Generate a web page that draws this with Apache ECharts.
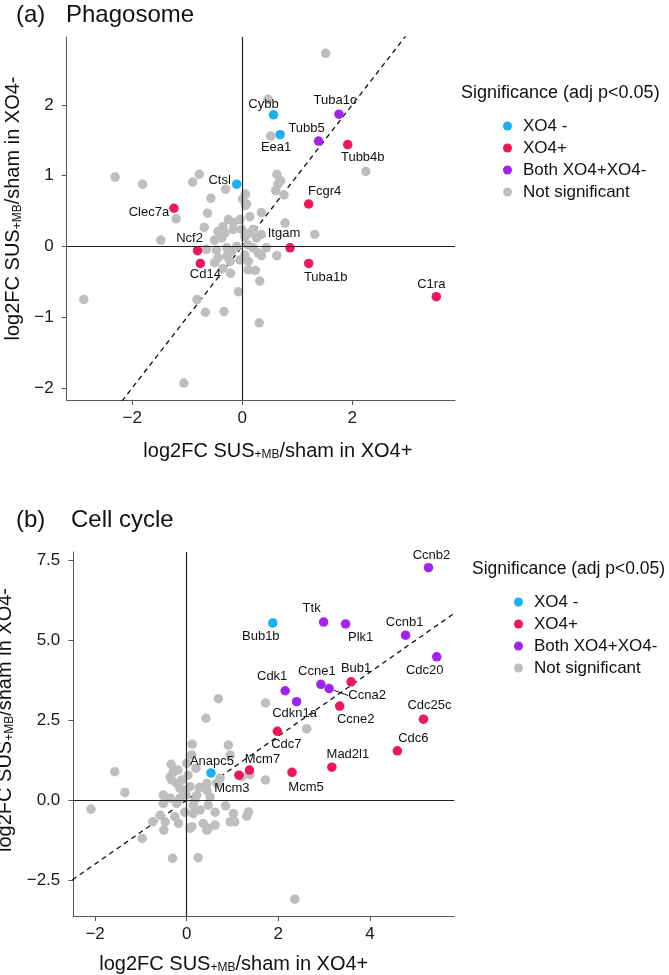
<!DOCTYPE html>
<html>
<head>
<meta charset="utf-8">
<script src="https://cdn.jsdelivr.net/npm/echarts@6/dist/echarts.min.js"></script>
<style>
  html, body { margin: 0; background: #fff; }
  #chart { width: 669px; height: 975px; }
</style>
</head>
<body>
<div id="chart"></div>
<script>
// ---- (a) Phagosome ----
const phagoBlueGenes = ['Cybb', 'Eea1', 'Ctsl'];
const phagoBlueX = [0.57, 0.69, -0.10];
const phagoBlueY = [1.86, 1.58, 0.88];

const phagoRedGenes = ['Tubb4b', 'Fcgr4', 'Clec7a', 'Ncf2', 'Cd14', 'Itgam', 'Tuba1b', 'C1ra'];
const phagoRedX = [1.92, 1.21, -1.24, -0.81, -0.76, 0.87, 1.21, 3.53];
const phagoRedY = [1.44, 0.60, 0.54, -0.06, -0.24, -0.02, -0.24, -0.71];

const phagoPurpleGenes = ['Tuba1c', 'Tubb5'];
const phagoPurpleX = [1.76, 1.39];
const phagoPurpleY = [1.87, 1.49];

const phagoGreyX = [1.52, 0.47, 0.52, 2.25, -2.31, -1.81, -0.78, -0.90, -0.30, -0.57, 0.63, 0.70, 0.65, 0.61, 0.76,
  0.06, 0.01, 0.08, 0.35, -0.63, -1.20, 0.06, 0.78, 1.32, -0.69, -1.48, -0.25, -0.16, -0.04, 0.14, -0.35, -0.01,
  -0.44, -0.31, -0.16, 0.05, 0.14, 0.20, 0.35, 0.26, -0.37, -0.50, -0.65, -0.47, -0.28, -0.19, -0.10, 0.11, 0.20,
  0.44, 0.29, 0.63, -0.44, -0.50, -0.28, -0.22, -0.04, 0.05, 0.11, -0.35, -0.21, 0.11, 0.32, -0.07, 0.24, -2.88,
  -0.82, -0.67, -0.33, 0.31, 0.35, -1.06];
const phagoGreyY = [2.73, 2.08, 1.56, 1.06, 0.98, 0.88, 1.02, 0.91, 0.81, 0.68, 1.02, 0.93, 0.88, 0.79, 0.73,
  0.74, 0.67, 0.60, 0.48, 0.47, 0.39, 0.58, 0.33, 0.17, 0.27, 0.09, 0.38, 0.34, 0.38, 0.42, 0.28, 0.24,
  0.21, 0.19, 0.24, 0.14, 0.19, 0.24, 0.17, 0.12, 0.12, 0.09, -0.04, -0.05, -0.02, -0.07, 0.00, 0.02, -0.02,
  -0.02, -0.09, -0.13, -0.16, -0.23, -0.14, -0.21, -0.19, -0.12, -0.21, -0.31, -0.38, -0.33, -0.49, -0.64, -0.34, -0.75,
  -0.75, -0.93, -0.92, -1.08, -0.13, -1.93];

// ---- (b) Cell cycle ----
const cellBlueGenes = ['Bub1b', 'Anapc5'];
const cellBlueX = [1.88, 0.53];
const cellBlueY = [5.54, 0.85];

const cellRedGenes = ['Bub1', 'Ccne2', 'Cdc25c', 'Cdc6', 'Cdc7', 'Mad2l1', 'Mcm5', 'Mcm7', 'Mcm3'];
const cellRedX = [3.59, 3.34, 5.17, 4.60, 1.98, 3.17, 2.30, 1.37, 1.14];
const cellRedY = [3.70, 2.94, 2.53, 1.54, 2.15, 1.03, 0.87, 0.94, 0.78];

const cellPurpleGenes = ['Ccnb2', 'Ttk', 'Plk1', 'Ccnb1', 'Cdc20', 'Cdk1', 'Cdkn1a', 'Ccne1', 'Ccna2'];
const cellPurpleX = [5.28, 2.99, 3.47, 4.78, 5.46, 2.15, 2.40, 2.93, 3.11];
const cellPurpleY = [7.27, 5.57, 5.51, 5.16, 4.48, 3.42, 3.08, 3.62, 3.49];

const cellGreyX = [0.69, 1.72, 0.42, 2.62, 0.12, 0.91, 0.11, 0.95, -0.34, 0.00, -1.57, -0.29, 1.38, 1.72, -1.35,
  -2.09, -0.36, -0.22, -0.11, 0.03, -0.15, -0.51, 0.07, 0.28, 0.44, 0.66, 0.22, 0.51, 1.20, -0.51, -0.22, 0.14,
  0.47, 0.85, 1.02, 1.31, -0.58, -0.26, 0.14, -0.74, -0.47, -0.18, 0.36, 0.95, 1.05, 0.11, -0.50, -0.97, 0.44,
  -0.31, 0.25, 2.36, 1.35, 0.62, 0.47, 0.07, -0.08, -0.01, -0.15, 0.18, -0.36, 0.29, -0.04, 0.62, -0.19, 0.20,
  0.44, 0.73, -0.33];
const cellGreyY = [3.17, 3.04, 2.56, 2.23, 1.75, 1.72, 1.41, 1.41, 1.12, 1.15, 0.89, 0.88, 0.80, 0.63, 0.24,
  -0.28, 0.73, 0.52, 0.63, 0.78, 0.37, 0.16, 0.42, 0.40, 0.31, 0.52, 0.16, 0.10, 0.73, -0.10, -0.10, -0.16,
  -0.16, -0.18, -0.42, -0.50, -0.47, -0.52, -0.42, -0.68, -0.68, -0.73, -0.73, -0.68, -0.68, -0.83, -0.94, -1.20, -0.94,
  -1.82, -1.80, -3.10, -0.37, -0.78, -0.88, -0.88, 0.31, 0.16, 0.06, 0.00, 0.06, -0.31, -0.38, -0.38, 0.94, 1.00,
  0.52, 0.68, 0.63];

// tick labels
const phagoXTicks = [-2, 0, 2];
const phagoYTicks = [-2, -1, 0, 1, 2];
const cellXTicks = [-2, 0, 2, 4];
const cellYTicks = [-2.5, 0, 2.5, 5, 7.5];

const groupNames = ['XO4 -', 'XO4+', 'Both XO4+XO4-', 'Not significant'];
const groupColors = ['#1AAFEF', '#EE1757', '#A023EE', '#BEBEBE'];

// label placement (pixel offset of label centre from point centre)
const labelOffset = {
  Cybb: [-10, -10], Eea1: [-4, 13], Tuba1c: [-4, -14], Tubb5: [-12, -13], Tubb4b: [15, 13],
  Ctsl: [-17, -4], Clec7a: [-25, 4], Fcgr4: [16, -13], Ncf2: [-8, -12], Cd14: [5, 11],
  Itgam: [-6, -14], Tuba1b: [17, 14], C1ra: [-5, -12],
  Ccnb2: [3, -12], Bub1b: [-12, 13], Ttk: [-12, -14], Plk1: [15, 13], Ccnb1: [-1, -13],
  Cdc20: [-12, 14], Cdk1: [-13, -14], Cdkn1a: [-2, 12], Ccne1: [-4, -13], Ccna2: [38, 7],
  Bub1: [5, -13], Ccne2: [16, 13], Cdc25c: [6, -14], Cdc6: [16, -12], Cdc7: [9, 13],
  Mad2l1: [16, -13], Mcm5: [14, 15], Mcm7: [13, -11], Mcm3: [-7, 13], Anapc5: [1, -12]
};
const withSegment = ['Ccna2'];

const FONT = 'Liberation Sans, Arial, Helvetica, sans-serif';
const minus = v => String(v).replace('-', '\u2212');

function points(genes, xs, ys) {
  return xs.map((x, i) => {
    const item = { value: [x, ys[i]] };
    if (genes) {
      item.name = genes[i];
      if (withSegment.indexOf(genes[i]) >= 0) {
        item.labelLine = { show: true, lineStyle: { color: '#111', width: 1 } };
      }
    }
    return item;
  });
}

function scatter(name, color, data, axis, labelled) {
  return {
    name: name,
    type: 'scatter',
    xAxisIndex: axis,
    yAxisIndex: axis,
    symbolSize: 9.5,
    z: 3,
    itemStyle: { color: color, opacity: 1 },
    label: {
      show: labelled,
      position: 'inside',
      formatter: '{b}',
      fontFamily: FONT,
      fontSize: 13,
      color: '#111'
    },
    labelLine: { show: false },
    labelLayout: labelled ? function (p) {
      const o = labelOffset[p.text] || [0, -12];
      return { dx: o[0], dy: o[1] };
    } : null,
    emphasis: { disabled: true },
    data: data
  };
}

function refLines(axis, lo, hi) {
  return {
    type: 'line',
    xAxisIndex: axis,
    yAxisIndex: axis,
    z: 1,
    silent: true,
    symbol: 'none',
    clip: true,
    lineStyle: { color: '#111', width: 1.3, type: [5, 4] },
    data: [[lo, lo], [hi, hi]],
    markLine: {
      silent: true,
      symbol: ['none', 'none'],
      label: { show: false },
      lineStyle: { color: '#222', width: 1.2, type: 'solid' },
      data: [{ xAxis: 0 }, { yAxis: 0 }]
    }
  };
}

function axisTitle(main, tail) {
  return '{a|' + main + '}{s|+MB}{a|' + tail + '}';
}
const titleRich = {
  a: { fontFamily: FONT, fontSize: 20, color: '#111' },
  s: { fontFamily: FONT, fontSize: 12, color: '#111', verticalAlign: 'bottom' }
};

function xAxis(grid, min, max, ticks, gap, pad) {
  return {
    gridIndex: grid, type: 'value', min: min, max: max,
    splitLine: { show: false },
    axisLine: { onZero: false, lineStyle: { color: '#555', width: 1 } },
    axisTick: { customValues: ticks, length: 5, lineStyle: { color: '#555' } },
    axisLabel: { customValues: ticks, formatter: minus, fontFamily: FONT, fontSize: 17, color: '#1a1a1a', margin: 10 },
    name: axisTitle('log2FC SUS', '/sham in XO4+'),
    nameLocation: 'middle', nameGap: gap,
    nameTextStyle: { rich: titleRich, padding: pad }
  };
}

function yAxis(grid, min, max, ticks, fmt, gap, pad) {
  return {
    gridIndex: grid, type: 'value', min: min, max: max,
    splitLine: { show: false },
    axisLine: { onZero: false, lineStyle: { color: '#555', width: 1 } },
    axisTick: { customValues: ticks, length: 5, lineStyle: { color: '#555' } },
    axisLabel: { customValues: ticks, formatter: fmt, fontFamily: FONT, fontSize: 17, color: '#1a1a1a', margin: 13 },
    name: axisTitle('log2FC SUS', '/sham in XO4-'),
    nameLocation: 'middle', nameRotate: 90, nameGap: gap,
    nameTextStyle: { rich: titleRich, padding: pad }
  };
}

function legend(left, top) {
  return {
    orient: 'vertical', left: left, top: top,
    icon: 'circle', itemWidth: 9, itemHeight: 9, itemGap: 4,
    data: groupNames,
    textStyle: { fontFamily: FONT, fontSize: 17, color: '#111', lineHeight: 18, padding: [0, 0, 0, 6] }
  };
}

function heading(text, left, top, size) {
  return { text: text, left: left, top: top, padding: 0,
    textStyle: { fontFamily: FONT, fontSize: size, fontWeight: 'normal', color: '#111', lineHeight: size + 4 } };
}

const chart = echarts.init(document.getElementById('chart'));
chart.setOption({
  backgroundColor: '#fff',
  animation: false,
  title: [
    heading('(a)', 16, 1, 24),
    heading('Phagosome', 66, 1, 24),
    heading('Significance (adj p<0.05)', 461, 82, 18),
    heading('(b)', 16, 506, 24),
    heading('Cell cycle', 71, 506, 24),
    heading('Significance (adj p<0.05)', 472, 558, 17.5)
  ],
  legend: [legend(498, 112), legend(509, 588)],
  grid: [
    { left: 66.7, top: 37, width: 388.3, height: 363, outerBoundsMode: 'none', containLabel: false },
    { left: 73.3, top: 552, width: 381, height: 364, outerBoundsMode: 'none', containLabel: false }
  ],
  xAxis: [
    xAxis(0, -3.19, 3.87, phagoXTicks, 41, [0, 0, 0, 34]),
    xAxis(1, -2.476, 5.843, cellXTicks, 38, [0, 60, 0, 0])
  ],
  yAxis: [
    yAxis(0, -2.17, 2.96, phagoYTicks, minus, 42, [0, 0, 0, 20]),
    yAxis(1, -3.625, 7.76, cellYTicks, v => v.toFixed(1).replace('-', '\u2212'), 46, [0, 0, 0, 28])
  ],
  series: [
    refLines(0, -3.19, 3.87),
    scatter('Not significant', groupColors[3], points(null, phagoGreyX, phagoGreyY), 0, false),
    scatter('XO4 -', groupColors[0], points(phagoBlueGenes, phagoBlueX, phagoBlueY), 0, true),
    scatter('XO4+', groupColors[1], points(phagoRedGenes, phagoRedX, phagoRedY), 0, true),
    scatter('Both XO4+XO4-', groupColors[2], points(phagoPurpleGenes, phagoPurpleX, phagoPurpleY), 0, true),
    refLines(1, -3.625, 7.76),
    scatter('Not significant', groupColors[3], points(null, cellGreyX, cellGreyY), 1, false),
    scatter('XO4 -', groupColors[0], points(cellBlueGenes, cellBlueX, cellBlueY), 1, true),
    scatter('XO4+', groupColors[1], points(cellRedGenes, cellRedX, cellRedY), 1, true),
    scatter('Both XO4+XO4-', groupColors[2], points(cellPurpleGenes, cellPurpleX, cellPurpleY), 1, true)
  ]
});
</script>
</body>
</html>
